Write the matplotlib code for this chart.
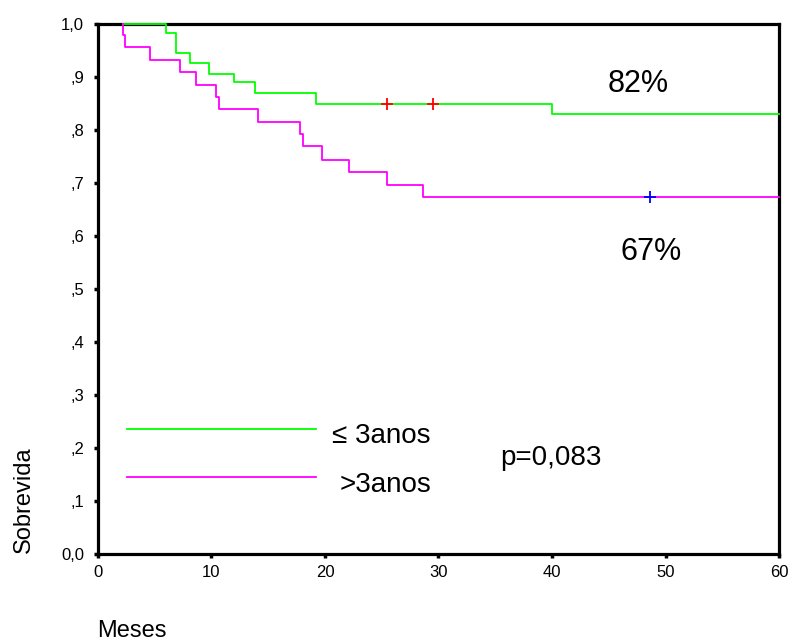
import matplotlib
matplotlib.use("Agg")
import matplotlib.pyplot as plt

plt.rcParams['font.family'] = ['Liberation Sans', 'DejaVu Sans']

# Data
green_times = [2.2, 6.0, 6.9, 8.1, 9.8, 12.0, 13.8, 19.2, 40.0, 60.0]
green_surv = [1.0, 0.982, 0.945, 0.925, 0.905, 0.889, 0.869, 0.849, 0.829, 0.829]
green_cens_t = [25.5, 29.5]
green_cens_s = [0.849, 0.849]

mag_times = [2.2, 2.2, 2.4, 4.6, 7.2, 8.6, 10.4, 10.7, 14.1, 17.8, 18.1, 19.7, 22.1, 25.5, 28.6, 60.0]
mag_surv = [1.0, 0.979, 0.955, 0.932, 0.909, 0.885, 0.862, 0.839, 0.815, 0.792, 0.770, 0.742, 0.720, 0.696, 0.673, 0.673]
mag_cens_t = [48.6]
mag_cens_s = [0.673]

x_ticks = [0, 10, 20, 30, 40, 50, 60]
y_ticks = [0.0, 0.1, 0.2, 0.3, 0.4, 0.5, 0.6, 0.7, 0.8, 0.9, 1.0]
y_tick_labels = ['0,0', ',1', ',2', ',3', ',4', ',5', ',6', ',7', ',8', ',9', '1,0']
legend_labels = ['\u2264 3anos', '>3anos']

fig = plt.figure(figsize=(7.92, 6.44), dpi=100)
ax = fig.add_axes([0.1237, 0.1393, 0.8599, 0.8242])

ax.step(green_times, green_surv, where='post', color='#00FF00', lw=1.3, zorder=4, clip_on=False)
ax.step(mag_times, mag_surv, where='post', color='#FF00FF', lw=1.3, zorder=4, clip_on=False)
ax.plot(green_cens_t, green_cens_s, '+', color='#FF0000', ms=8, mew=1.3, zorder=5, clip_on=False)
ax.plot(mag_cens_t, mag_cens_s, '+', color='#0000FF', ms=8, mew=1.3, zorder=5, clip_on=False)

ax.set_xlim(0, 60)
ax.set_ylim(0, 1.0)
ax.set_xticks(x_ticks)
ax.set_xticklabels([str(v) for v in x_ticks])
ax.set_yticks(y_ticks)
ax.set_yticklabels(y_tick_labels)
for s in ax.spines.values():
    s.set_linewidth(2.3)
    s.set_color('black')
ax.tick_params(axis='both', direction='out', length=3, width=2.5, labelsize=12, colors='black')
ax.tick_params(axis='x', pad=5)
ax.tick_params(axis='y', pad=7)

# legend samples
ax.plot([0.042, 0.320], [0.236, 0.236], color='#00FF00', lw=1.3, transform=ax.transAxes)
ax.plot([0.042, 0.320], [0.146, 0.146], color='#FF00FF', lw=1.3, transform=ax.transAxes)
ax.text(29.3, 0.2097, legend_labels[0], fontsize=20, ha='right', va='baseline',
        family=['Liberation Sans', 'DejaVu Sans'])
ax.text(29.4, 0.118, legend_labels[1], fontsize=20, ha='right', va='baseline')
ax.text(35.4, 0.168, 'p=0,083', fontsize=20, ha='left', va='baseline')
ax.text(47.6, 0.871, '82%', fontsize=22, ha='center', va='baseline')
ax.text(48.7, 0.5544, '67%', fontsize=22, ha='center', va='baseline')

fig.text(0.0303, 0.1413, 'Sobrevida', rotation=90, fontsize=17, ha='center', va='bottom')
fig.text(0.1225, 0.011, 'Meses', fontsize=17, ha='left', va='baseline')

fig.savefig('out.png', dpi=100)
